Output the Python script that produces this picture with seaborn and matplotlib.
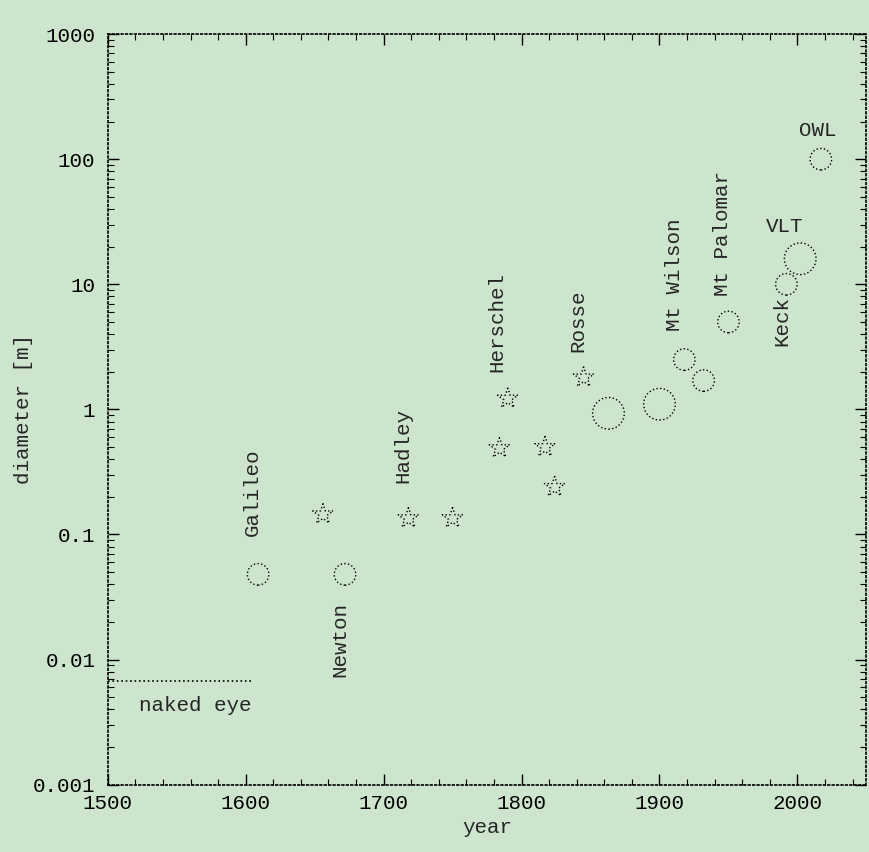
import matplotlib
matplotlib.use("Agg")
import matplotlib.pyplot as plt
import seaborn as sns
import pandas as pd
from matplotlib.ticker import AutoMinorLocator, LogLocator, NullFormatter

# ---- data ----
years = [1609, 1656, 1672, 1718, 1750, 1784, 1790, 1817, 1824, 1845,
         1863, 1900, 1918, 1932, 1950, 1992, 2002, 2017]
diameters = [0.048, 0.145, 0.048, 0.135, 0.135, 0.49, 1.22, 0.5, 0.24, 1.8,
             0.93, 1.1, 2.5, 1.7, 5.0, 10.0, 16.0, 100.0]
kinds = ["circle", "star", "circle", "star", "star", "star", "star", "star", "star", "star",
         "circle", "circle", "circle", "circle", "circle", "circle", "circle", "circle"]
sizes_cat = ["small", "small", "small", "small", "small", "small", "small", "small", "small", "small",
             "large", "large", "small", "small", "small", "small", "large", "small"]

label_names = ["Galileo", "Newton", "Hadley", "Herschel", "Rosse", "Mt Wilson",
               "Mt Palomar", "Keck", "VLT", "OWL"]
label_x = [1605, 1668, 1714, 1782, 1841, 1911, 1946, 1989, 1991, 2015]
label_y = [0.097, 0.029, 0.257, 2.0, 2.9, 4.2, 8.0, 8.0, 29, 171]
label_rot = [90, 90, 90, 90, 90, 90, 90, 90, 0, 0]
label_va = ["bottom", "top", "bottom", "bottom", "bottom", "bottom", "bottom", "top", "center", "center"]

naked_eye_years = [1500, 1605]
naked_eye_diam = [0.0068, 0.0068]

x_ticks = [1500, 1600, 1700, 1800, 1900, 2000]
x_ticklabels = ["1500", "1600", "1700", "1800", "1900", "2000"]
y_ticks = [0.001, 0.01, 0.1, 1, 10, 100, 1000]
y_ticklabels = ["0.001", "0.01", "0.1", "1", "10", "100", "1000"]

df = pd.DataFrame({"year": years, "diameter": diameters, "kind": kinds, "sz": sizes_cat})

# ---- style ----
sns.set_theme(style="ticks")
bg = "#cce5cc"
plt.rcParams["font.family"] = ["Liberation Mono", "DejaVu Sans Mono"]
FS = 15

fig = plt.figure(figsize=(8.69, 8.52), dpi=100, facecolor=bg)
ax = fig.add_axes([0.124, 0.079, 0.873, 0.881])
ax.set_facecolor(bg)

sns.scatterplot(data=df, x="year", y="diameter", style="kind", size="sz",
                markers={"circle": "o", "star": "*"},
                sizes={"small": 240, "large": 520},
                facecolors="none", edgecolor="black", linewidth=1.0,
                linestyles=":", legend=False, ax=ax)
for coll in ax.collections:
    coll.set_facecolor("none")
    coll.set_edgecolor("black")
    coll.set_linestyle(":")

ax.plot(naked_eye_years, naked_eye_diam, color="black", linestyle=":", linewidth=1.2)
ax.text(1523, 0.0043, "naked eye", ha="left", va="center", fontsize=FS)

for name, lx, ly, rot, va in zip(label_names, label_x, label_y, label_rot, label_va):
    ax.text(lx, ly, name, rotation=rot, ha="center", va=va, fontsize=FS)

ax.set_yscale("log")
ax.set_xlim(1500, 2050)
ax.set_ylim(0.001, 1000)
ax.set_xticks(x_ticks)
ax.set_xticklabels(x_ticklabels)
ax.set_yticks(y_ticks)
ax.set_yticklabels(y_ticklabels)
ax.yaxis.set_minor_locator(LogLocator(base=10, subs=range(2, 10)))
ax.yaxis.set_minor_formatter(NullFormatter())
ax.xaxis.set_minor_locator(AutoMinorLocator(5))

ax.tick_params(which="both", direction="in", top=True, right=True, colors="black",
               labelsize=FS)
ax.tick_params(which="major", length=8, width=1)
ax.tick_params(which="minor", length=4, width=0.8)
ax.tick_params(axis="y", pad=9)
ax.tick_params(axis="x", pad=7)

for sp in ax.spines.values():
    sp.set_visible(True)
    sp.set_linestyle(":")
    sp.set_color("black")
    sp.set_linewidth(1.2)

ax.set_xlabel("year", fontsize=FS, labelpad=3)
ax.set_ylabel("diameter [m]", fontsize=FS, labelpad=0)

fig.savefig("out.png", dpi=100, facecolor=bg)
